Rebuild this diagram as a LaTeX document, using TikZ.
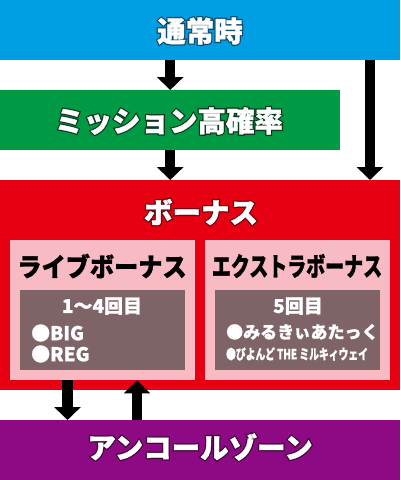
\documentclass[tikz,border=0pt]{standalone}
\usepackage{fontspec}
\setmainfont{Noto Sans CJK JP}
\newfontfamily\heavy{Noto Sans CJK JP}[BoldFeatures={FakeBold=1.2}]
\newfontfamily\rim{Noto Sans CJK JP}[BoldFeatures={FakeBold=10}]
\usetikzlibrary{arrows.meta, positioning}

\definecolor{tsujoblue}{HTML}{009FE3}
\definecolor{tsujoedge}{HTML}{0D4C70}
\definecolor{missiongreen}{HTML}{009A44}
\definecolor{missionedge}{HTML}{0B3B1F}
\definecolor{bonusred}{HTML}{E60012}
\definecolor{bonusedge}{HTML}{6A0710}
\definecolor{boxpink}{HTML}{F8BBC4}
\definecolor{boxgrey}{HTML}{7E6467}
\definecolor{encorepurple}{HTML}{8E0A84}
\definecolor{encoreedge}{HTML}{3D0737}

\tikzset{
  band/.style={rectangle, inner sep=0pt, anchor=north west},
  big/.style={inner sep=0pt, font=\fontsize{28.5}{28.5}\selectfont\heavy\bfseries},
  bigrim/.style={inner sep=0pt, font=\fontsize{28.5}{28.5}\selectfont\rim\bfseries},
  boxtitle/.style={inner sep=0pt, font=\fontsize{26}{26}\selectfont\heavy\bfseries},
  info/.style={inner sep=0pt, text=white, font=\fontsize{19}{19}\selectfont\heavy\bfseries},
  blk/.style={line width=10.5pt, -{Triangle[width=26pt,length=13pt]}}
}

% white text with a dark rim
\newcommand\fuchidori[4]{%
  \node[bigrim, text=#3] (#1r) at #2 {#4};
  \node[big, text=white] (#1) at #2 {#4};
}

\begin{document}
\begin{tikzpicture}[x=1pt, y=-1pt]
  \useasboundingbox (0,0) rectangle (400,480);

  % bands
  \node[band, fill=tsujoblue, minimum width=400pt, minimum height=60pt] (tsujo) at (0,0) {};
  \node[band, fill=missiongreen, minimum width=340pt, minimum height=60pt] (mission) at (0,90) {};
  \node[band, fill=bonusred, minimum width=400pt, minimum height=210pt] (bonus) at (0,180) {};
  \node[band, fill=encorepurple, minimum width=400pt, minimum height=60pt] (encore) at (0,420) {};

  % bonus boxes
  \node[band, fill=boxpink, minimum width=185pt, minimum height=140pt] (live) at (10,240) {};
  \node[band, fill=boxpink, minimum width=185pt, minimum height=140pt] (extra) at (205,240) {};
  \node[band, fill=boxgrey, minimum width=165pt, minimum height=80pt] (livein) at (20,290) {};
  \node[band, fill=boxgrey, minimum width=165pt, minimum height=80pt] (extrain) at (215,290) {};

  % headings
  \fuchidori{tsujot}{(200,31)}{tsujoedge}{通常時}
  \fuchidori{missiont}{(169,121)}{missionedge}{ミッション高確率}
  \fuchidori{bonust}{(201,212)}{bonusedge}{ボーナス}
  \fuchidori{encoret}{(200,447)}{encoreedge}{アンコールゾーン}

  \node[boxtitle, xscale=0.93] (livet) at (102,266) {ライブボーナス};
  \node[boxtitle, xscale=0.73] (extrat) at (297,266) {エクストラボーナス};

  % contents
  \node[info] (livecount) at (102,306) {1～4回目};
  \node[info, anchor=west] (big) at (31,333) {●BIG};
  \node[info, anchor=west] (reg) at (31,354) {●REG};
  \node[info] (extracount) at (298,306) {5回目};
  \node[info, anchor=west, font=\fontsize{17}{17}\selectfont\heavy\bfseries] (milky) at (226,332) {●みるきぃあたっく};
  \node[info, anchor=west, xscale=0.7, font=\fontsize{14}{14}\selectfont\heavy\bfseries] (beyond) at (226,354) {●ぴよんど THE ミルキィウェイ};

  % arrows
  \coordinate (side) at (370,60);
  \coordinate (down) at (67.5,380);
  \coordinate (up) at (137,420);
  \draw[blk] (tsujo.south -| mission.north) -- (mission.north);
  \draw[blk] (mission.south) -- (mission.south |- bonus.north);
  \draw[blk] (side) -- (side |- bonus.north);
  \draw[blk] (down) -- (down |- encore.north);
  \draw[blk] (up) -- (up |- live.south);
\end{tikzpicture}
\end{document}
